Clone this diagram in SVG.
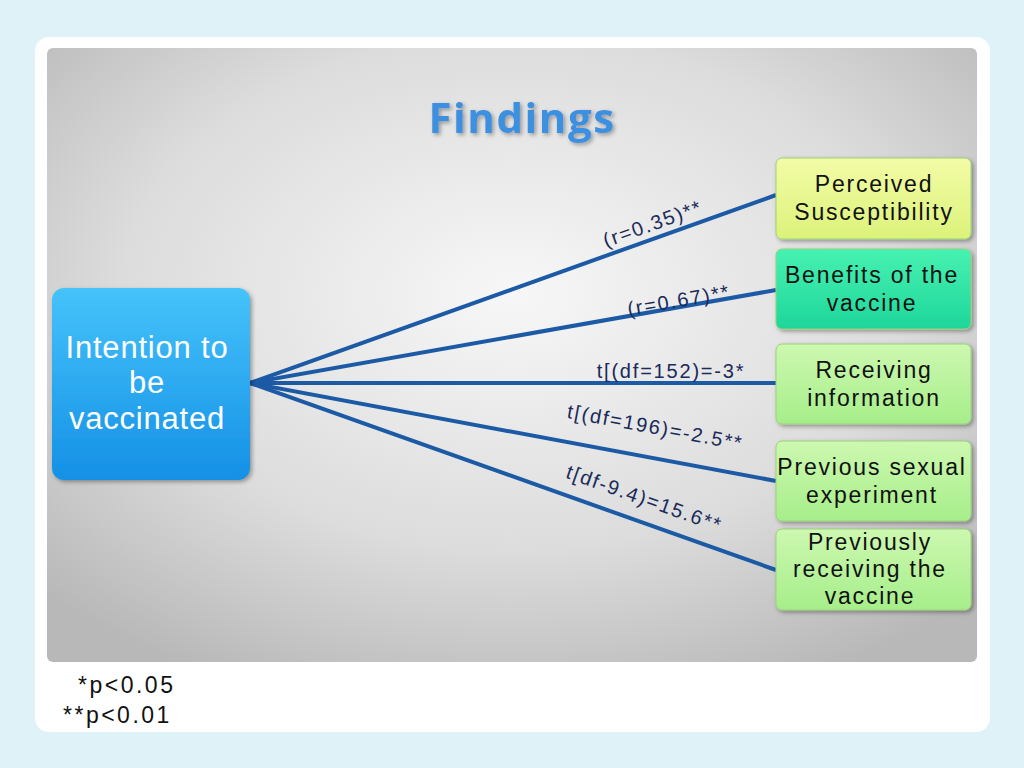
<svg xmlns="http://www.w3.org/2000/svg" width="1024" height="768" viewBox="0 0 1024 768">
<defs>
<radialGradient id="bg" cx="0.5" cy="0.4" r="0.7"><stop offset="0" stop-color="#f7f7f7"/><stop offset="0.6" stop-color="#dcdcdc"/><stop offset="1" stop-color="#b8b8b8"/></radialGradient>
<linearGradient id="blue" x1="0" y1="0" x2="0" y2="1"><stop offset="0" stop-color="#45c3fa"/><stop offset="1" stop-color="#1590e6"/></linearGradient>
<linearGradient id="g1" x1="0" y1="0" x2="0" y2="1"><stop offset="0" stop-color="#f3fca6"/><stop offset="1" stop-color="#dcf27a"/></linearGradient>
<linearGradient id="g2" x1="0" y1="0" x2="0" y2="1"><stop offset="0" stop-color="#46f2b2"/><stop offset="1" stop-color="#1ed69a"/></linearGradient>
<linearGradient id="g3" x1="0" y1="0" x2="0" y2="1"><stop offset="0" stop-color="#cdf8b0"/><stop offset="1" stop-color="#a6ee8a"/></linearGradient>
<filter id="sh" x="-10%" y="-10%" width="130%" height="130%"><feDropShadow dx="2" dy="2" stdDeviation="2" flood-opacity="0.35"/></filter>
</defs>
<style>
.nt{font-family:"Liberation Sans",Arial,sans-serif;font-size:23px;letter-spacing:1.8px;fill:#111;text-anchor:middle}
.lb{font-family:"Liberation Sans",Arial,sans-serif;font-size:20px;letter-spacing:1.8px;fill:#1a2a5a;text-anchor:middle}
.ln{stroke:#1c5aa6;stroke-width:4;fill:none}
.box{stroke:#9bd17a;stroke-width:1;filter:url(#sh)}
.it{font-family:"Liberation Sans",Arial,sans-serif;font-size:31px;letter-spacing:0.8px;fill:#fff;text-anchor:middle}
.fn{font-family:"Liberation Sans",Arial,sans-serif;font-size:23px;letter-spacing:2.5px;fill:#111}
</style>
<rect width="1024" height="768" fill="#dff2f8"/>
<rect x="35" y="37" width="955" height="695" rx="14" fill="#fff"/>
<rect x="47" y="48" width="930" height="614" rx="6" fill="url(#bg)"/>
<text x="522" y="133" text-anchor="middle" font-family="Open Sans,Liberation Sans,sans-serif" font-weight="bold" font-size="42" letter-spacing="1.5" fill="#3d8fe0" filter="url(#sh)">Findings</text>
<g id="connectors">
<line class="ln" x1="250" y1="383" x2="776" y2="195"/>
<line class="ln" x1="250" y1="383" x2="776" y2="290"/>
<line class="ln" x1="250" y1="383" x2="776" y2="383"/>
<line class="ln" x1="250" y1="383" x2="776" y2="481"/>
<line class="ln" x1="250" y1="383" x2="776" y2="570"/>
<text class="lb" transform="translate(655,230) rotate(-19.7)">(r=0.35)**</text>
<text class="lb" transform="translate(680,307) rotate(-10)">(r=0.67)**</text>
<text class="lb" x="671" y="378">t[(df=152)=-3*</text>
<text class="lb" transform="translate(654,434) rotate(10.5)">t[(df=196)=-2.5**</text>
<text class="lb" transform="translate(642,505) rotate(19.6)">t[df-9.4)=15.6**</text>
</g>
<g id="intention">
<rect x="52" y="288" width="198" height="192" rx="12" fill="url(#blue)" filter="url(#sh)"/>
<text class="it" x="147" y="358">Intention to</text>
<text class="it" x="147" y="393">be</text>
<text class="it" x="147" y="429">vaccinated</text>
</g>
<g id="n1"><rect class="box" x="776" y="158" width="195" height="81" rx="6" fill="url(#g1)"/><text class="nt" x="874" y="192">Perceived</text><text class="nt" x="874" y="220">Susceptibility</text></g>
<g id="n2"><rect class="box" x="776" y="249" width="195" height="80" rx="6" fill="url(#g2)"/><text class="nt" x="872" y="283">Benefits of the</text><text class="nt" x="872" y="311">vaccine</text></g>
<g id="n3"><rect class="box" x="776" y="344" width="195" height="80" rx="6" fill="url(#g3)"/><text class="nt" x="874" y="378">Receiving</text><text class="nt" x="874" y="406">information</text></g>
<g id="n4"><rect class="box" x="776" y="441" width="195" height="80" rx="6" fill="url(#g3)"/><text class="nt" x="872" y="475">Previous sexual</text><text class="nt" x="872" y="503">experiment</text></g>
<g id="n5"><rect class="box" x="776" y="529" width="195" height="81" rx="6" fill="url(#g3)"/><text class="nt" x="870" y="550">Previously</text><text class="nt" x="870" y="577">receiving the</text><text class="nt" x="870" y="604">vaccine</text></g>
<text class="fn" x="78" y="693">*p&lt;0.05</text>
<text class="fn" x="63" y="723">**p&lt;0.01</text>
</svg>
